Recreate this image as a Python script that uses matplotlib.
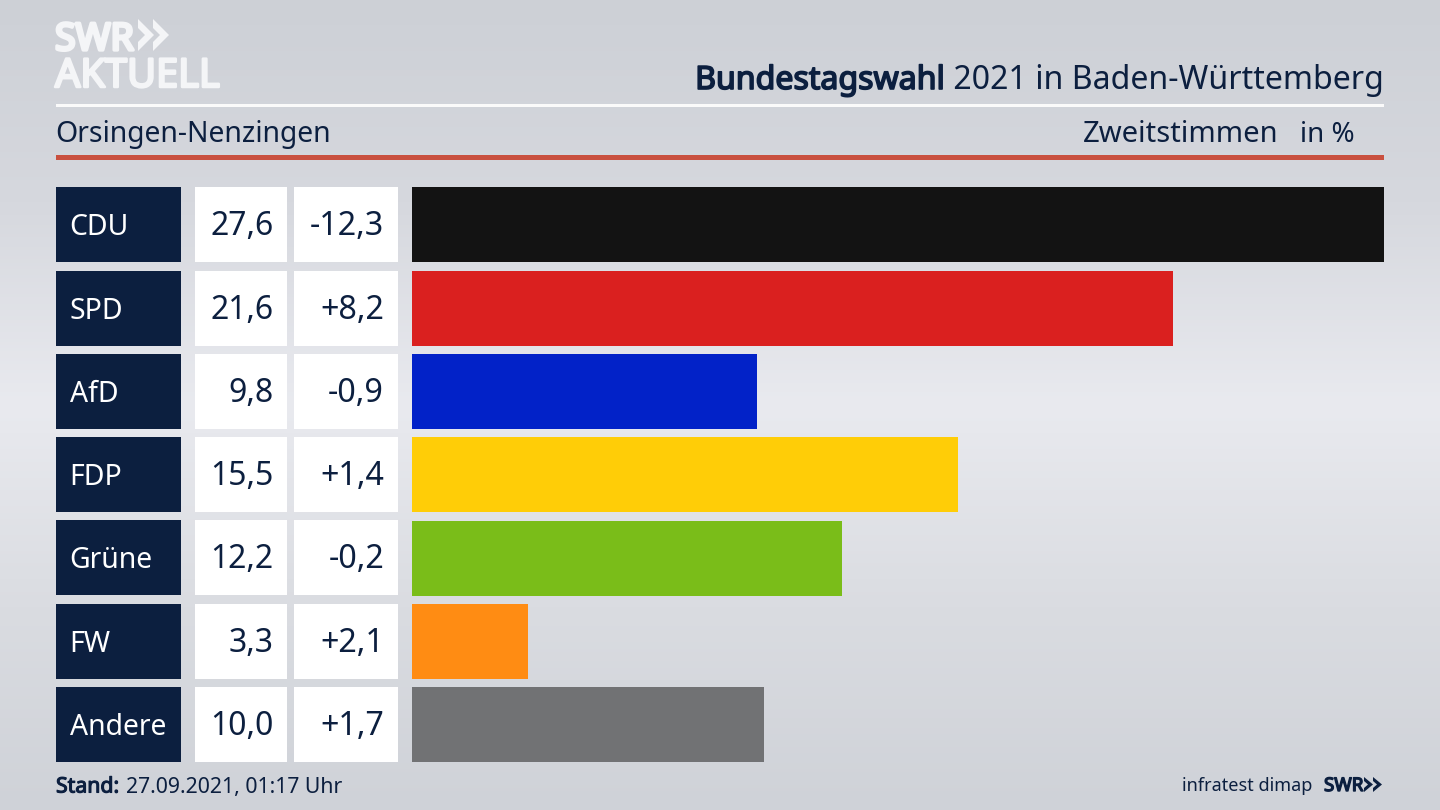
import numpy as np
import matplotlib
matplotlib.use("Agg")
import matplotlib.pyplot as plt
import matplotlib.patheffects as pe
from matplotlib.colors import LinearSegmentedColormap
from matplotlib.patches import Polygon, Rectangle

plt.rcParams['font.family'] = ['Noto Sans', 'DejaVu Sans']

parties = ["CDU", "SPD", "AfD", "FDP", "Grüne", "FW", "Andere"]
shares = [27.6, 21.6, 9.8, 15.5, 12.2, 3.3, 10.0]
diffs = ["-12,3", "+8,2", "-0,9", "+1,4", "-0,2", "+2,1", "+1,7"]
bar_colors = ["#131313", "#da201f", "#0222c8", "#ffcd07", "#7abd19", "#ff8c13", "#717274"]

navy = "#0c1f3f"
row_top = [187, 271, 354, 437, 520, 604, 687]
row_h = 75


def heavy(color, w):
    # the installed Noto Sans has no bold cut here, so thicken the strokes
    return [pe.withStroke(linewidth=w, foreground=color)]


fig = plt.figure(figsize=(14.4, 8.1), dpi=100)

# background and all furniture in pixel coordinates
ax = fig.add_axes([0, 0, 1, 1])
ax.set_xlim(0, 1440)
ax.set_ylim(810, 0)
ax.axis("off")
bg = LinearSegmentedColormap.from_list("bg", ["#cdd0d6", "#d6d8de", "#e9eaef", "#dadce1", "#cfd2d8"])
ax.imshow(np.linspace(0, 1, 256).reshape(-1, 1), cmap=bg, aspect="auto", extent=[0, 1440, 810, 0], zorder=0)

# logo
logo = "#f4f5f7"
ax.text(55, 50, "SWR", color=logo, fontsize=27, va="baseline", ha="left", path_effects=heavy(logo, 2.4))
ax.text(55, 87, "AKTUELL", color=logo, fontsize=28.6, va="baseline", ha="left", path_effects=heavy(logo, 1.8))
for x0 in (138, 153):
    ax.add_patch(Polygon([(x0, 19), (x0 + 16, 35), (x0, 51), (x0, 42), (x0 + 7, 35), (x0, 28)], closed=True, color=logo, lw=0))

# header
ax.add_patch(Rectangle((56, 104), 1328, 3, color="#fafafa", lw=0))
ax.add_patch(Rectangle((56, 155), 1328, 5, color="#c9503f", lw=0))
t = ax.text(1384, 89, " 2021 in Baden-Württemberg", color=navy, fontsize=23.1, ha="right", va="baseline")
fig.canvas.draw()
bb = t.get_window_extent()
ax.text(bb.x0, 89, "Bundestagswahl", color=navy, fontsize=23.1, ha="right", va="baseline", path_effects=heavy(navy, 1.2))
ax.text(55, 142, "Orsingen-Nenzingen", color=navy, fontsize=20.4, ha="left", va="baseline")
ax.text(1279, 142, "Zweitstimmen", color=navy, fontsize=21, ha="right", va="baseline")
ax.text(1355, 142, "in %", color=navy, fontsize=20, ha="right", va="baseline")

# table columns
for i, top in enumerate(row_top):
    base = top + 48
    ax.add_patch(Rectangle((56, top), 125, row_h, color=navy, lw=0))
    ax.add_patch(Rectangle((195, top), 92, row_h, color="white", lw=0))
    ax.add_patch(Rectangle((294, top), 104, row_h, color="white", lw=0))
    ax.text(69.5, base, parties[i], color="white", fontsize=20.4, ha="left", va="baseline")
    ax.text(273.5, base, f"{shares[i]:.1f}".replace(".", ","), color=navy, fontsize=23, ha="right", va="baseline")
    ax.text(384, base, diffs[i], color=navy, fontsize=23.2, ha="right", va="baseline")

# footer
ax.text(56, 792.5, "Stand:", color=navy, fontsize=15.3, ha="left", va="baseline", path_effects=heavy(navy, 0.8))
ax.text(126, 792.5, "27.09.2021, 01:17 Uhr", color=navy, fontsize=15.3, ha="left", va="baseline")
ax.text(1312, 791, "infratest dimap", color=navy, fontsize=13, ha="right", va="baseline")
ax.text(1324, 791, "SWR", color=navy, fontsize=13.5, ha="left", va="baseline", path_effects=heavy(navy, 1.0))
for x0 in (1364, 1373):
    ax.add_patch(Polygon([(x0, 777), (x0 + 9, 784.5), (x0, 792), (x0, 788), (x0 + 4, 784.5), (x0, 781)], closed=True, color=navy, lw=0))

# bars
bar_ax = fig.add_axes([412 / 1440, 1 - 762.4 / 810, 972 / 1440, 575 / 810])
bar_ax.barh(np.arange(len(parties)), shares, height=0.9, color=bar_colors)
bar_ax.set_xlim(0, 27.6)
bar_ax.set_ylim(6.45, -0.45)
bar_ax.axis("off")

fig.savefig("out.png", dpi=100)
